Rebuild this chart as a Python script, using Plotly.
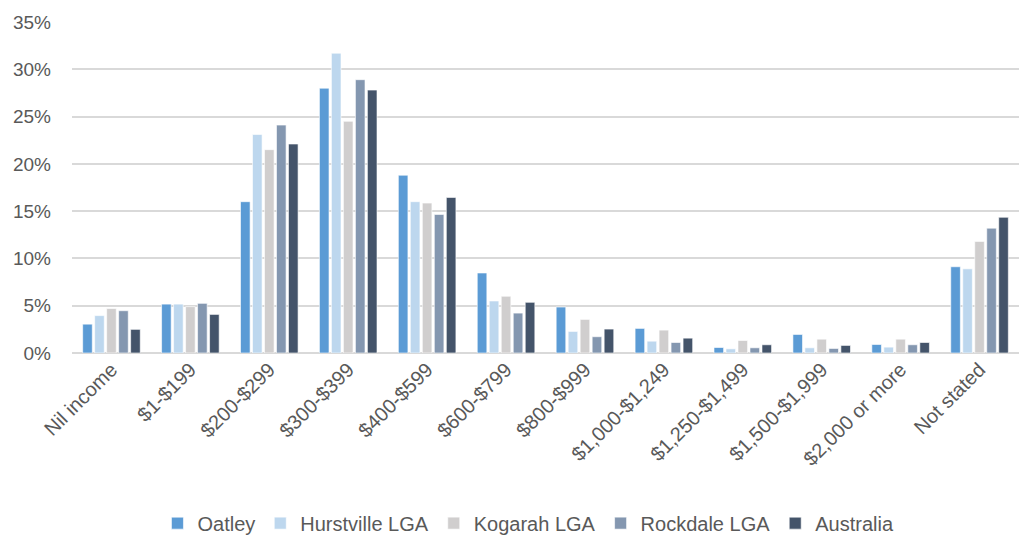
import plotly.graph_objects as go

categories = ["Nil income", "$1-$199", "$200-$299", "$300-$399", "$400-$599", "$600-$799",
              "$800-$999", "$1,000-$1,249", "$1,250-$1,499", "$1,500-$1,999",
              "$2,000 or more", "Not stated"]

oatley     = [3.05, 5.17, 16.0, 28.0, 18.8, 8.46, 4.86, 2.6, 0.58, 1.96, 0.9, 9.12]
hurstville = [3.95, 5.17, 23.1, 31.7, 16.0, 5.5, 2.28, 1.25, 0.44, 0.55, 0.62, 8.9]
kogarah    = [4.7, 4.9, 21.5, 24.5, 15.85, 6.0, 3.55, 2.42, 1.32, 1.46, 1.46, 11.8]
rockdale   = [4.47, 5.25, 24.1, 28.9, 14.65, 4.22, 1.72, 1.11, 0.55, 0.48, 0.87, 13.2]
australia  = [2.5, 4.08, 22.1, 27.8, 16.45, 5.36, 2.53, 1.57, 0.87, 0.8, 1.11, 14.35]

series_names = ["Oatley", "Hurstville LGA", "Kogarah LGA", "Rockdale LGA", "Australia"]
series_values = [oatley, hurstville, kogarah, rockdale, australia]
colors = ["#5B9BD5", "#BDD7EE", "#D0CECE", "#8497B0", "#44546A"]

fig = go.Figure()
for name, vals, col in zip(series_names, series_values, colors):
    fig.add_trace(go.Bar(
        x=categories, y=[v / 100 for v in vals], name=name,
        marker=dict(color=col, line=dict(color="rgba(255,255,255,0.6)", width=1)),
    ))

font_fam = "Liberation Sans, Arial, sans-serif"
fig.update_layout(
    width=1021, height=536,
    margin=dict(l=72, r=2, t=22, b=183, autoexpand=False),
    paper_bgcolor="white", plot_bgcolor="white",
    barmode="group", bargap=0.24, bargroupgap=0.2,
    font=dict(family=font_fam, size=20, color="#595959"),
    showlegend=True,
    legend=dict(orientation="h", x=0.482, xanchor="center", y=-0.514, yanchor="middle",
                font=dict(size=20, color="#595959"),
                itemwidth=30, tracegroupgap=0),
    yaxis=dict(range=[0, 0.35], dtick=0.05, tickformat=".0%", showgrid=True,
               gridcolor="#D9D9D9", gridwidth=1.5, zeroline=True, zerolinecolor="#D9D9D9",
               zerolinewidth=1.5, ticks="", ticklen=0, tickfont=dict(size=19),
               ticklabelstandoff=20),
    xaxis=dict(tickangle=-45, showgrid=False, showline=False, ticks="",
               tickfont=dict(size=20)),
)

fig.write_html("out.html")
